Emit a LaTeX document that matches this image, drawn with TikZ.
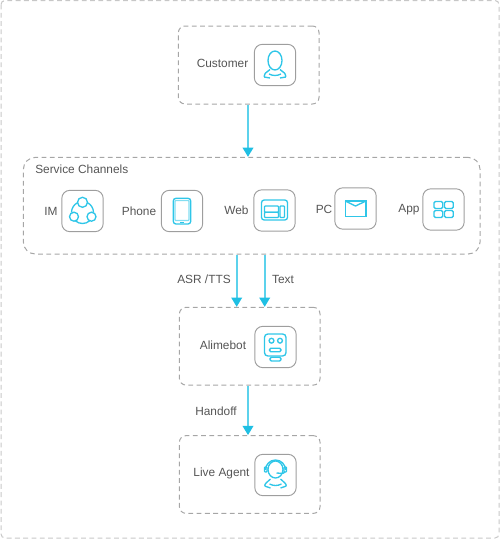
\documentclass[tikz,border=0pt]{standalone}
\usepackage{fontspec}
\setmainfont{Liberation Sans}
\usetikzlibrary{arrows.meta}
\definecolor{iconblue}{HTML}{2FC6E8}
\definecolor{flowblue}{HTML}{1FBFE3}
\definecolor{flowline}{HTML}{5CD2EC}
\definecolor{dashgray}{HTML}{A6A6A6}
\definecolor{txtgray}{HTML}{555555}
\tikzset{
	dashbox/.style={draw=dashgray, line width=0.75pt, dash pattern=on 3.6pt off 2.6pt, rounded corners=#1, inner sep=0pt},
	iconbox/.style={draw=black!38, line width=0.7pt, rounded corners=6pt, minimum size=31pt, inner sep=0pt},
	lbl/.style={font=\fontsize{8.9pt}{10pt}\selectfont, text=txtgray, inner sep=0pt},
	flow/.style={draw=flowline, line width=1.4pt, -{Triangle[length=7pt,width=8pt,color=flowblue]}},
	ico/.style={draw=iconblue, line width=1pt, rounded corners=0.6pt}
}
\begin{document}
\begin{tikzpicture}[x=0.75pt, y=-0.75pt]
	\useasboundingbox (0,0) rectangle (500,539);
	% Rahmen
	\draw[draw=black!22, line width=0.75pt, dash pattern=on 3.6pt off 2.6pt, rounded corners=3pt] (1,0.5) rectangle (499,538);
	% Bloecke
	\node[dashbox=5pt, minimum width=105.5pt, minimum height=58.5pt] (customer) at (248.7,65) {};
	\node[dashbox=9pt, minimum width=342.5pt, minimum height=72.5pt] (channels) at (251.7,205.7) {};
	\node[dashbox=5pt, minimum width=105.5pt, minimum height=58.3pt] (alimebot) at (249.7,346.2) {};
	\node[dashbox=5pt, minimum width=105.5pt, minimum height=58.3pt] (agent) at (249.7,474.5) {};
	% Icons
	\node[iconbox] (icust) at (275,65) {};
	\node[iconbox] (iim) at (82.5,211) {};
	\node[iconbox] (iphone) at (182,211) {};
	\node[iconbox] (iweb) at (274.5,210.5) {};
	\node[iconbox] (ipc) at (355.5,208.5) {};
	\node[iconbox] (iapp) at (443.5,209.5) {};
	\node[iconbox] (ibot) at (275.5,347) {};
	\node[iconbox] (ilive) at (275.5,475) {};
	% Texte
	\node[lbl] (tcust) at (222.5,63.5) {Customer};
	\node[lbl, anchor=west] (tchan) at (35,169.5) {Service Channels};
	\node[lbl] (tim) at (51,211.5) {IM};
	\node[lbl] (tphone) at (139,211.5) {Phone};
	\node[lbl] (tweb) at (236.5,210.5) {Web};
	\node[lbl] (tpc) at (324,209) {PC};
	\node[lbl] (tapp) at (409,210) {App};
	\node[lbl] (tbot) at (223,345) {Alimebot};
	\node[lbl] (tlive) at (221.5,473) {Live Agent};
	\node[lbl] (tasr) at (204,279) {ASR /TTS};
	\node[lbl] (ttext) at (283,279) {Text};
	\node[lbl] (thand) at (216,411) {Handoff};
	% Pfeile
	\coordinate (midx) at (248,0);
	\coordinate (asrx) at (236.7,0);
	\coordinate (txtx) at (264.7,0);
	\draw[flow] (midx |- customer.south) -- (midx |- channels.north);
	\draw[flow] (asrx |- channels.south) -- (asrx |- alimebot.north);
	\draw[flow] (txtx |- channels.south) -- (txtx |- alimebot.north);
	\draw[flow] (midx |- alimebot.south) -- (midx |- agent.north);
	% Customer
	\begin{scope}[shift={(icust.center)}]
		\draw[ico] (0,-4.5) ellipse (7 and 9.5);
		\draw[ico] (-5,4.5) -- (-10,8.5) -- (-11,12) -- (-5,13);
		\draw[ico] (5,4.5) -- (10,8.5) -- (11,12) -- (5,13);
		\draw[ico] (-6,9) .. controls (-2,11) and (2,11) .. (6,9);
	\end{scope}
	% IM
	\begin{scope}[shift={(iim.center)}]
		\draw[ico] (0,-8.7) circle (5);
		\draw[ico] (-8.5,5.7) circle (4.5);
		\draw[ico] (9,5.7) circle (4.5);
		\draw[ico] (0,1.5) ++(-115:11) arc[start angle=-115, end angle=-180, radius=11];
		\draw[ico] (0,1.5) ++(-65:11) arc[start angle=-65, end angle=0, radius=11];
		\draw[ico] (0,1.5) ++(130:11) arc[start angle=130, end angle=50, radius=11];
	\end{scope}
	% Phone
	\begin{scope}[shift={(iphone.center)}]
		\draw[ico, rounded corners=2pt] (-8.7,-12.7) rectangle (8.7,13);
		\draw[ico, draw=iconblue!60] (-7,-10.5) rectangle (7,9.5);
		\draw[ico] (-2,11.3) -- (2,11.3);
	\end{scope}
	% Web
	\begin{scope}[shift={(iweb.center)}]
		\draw[ico, rounded corners=2pt] (-13,-10.5) rectangle (13,9.5);
		\draw[ico] (-10,-4.5) rectangle (4,1.8);
		\draw[ico] (-10,1.8) rectangle (4,7);
		\draw[ico] (5.5,-4.5) rectangle (10,7);
	\end{scope}
	% PC
	\begin{scope}[shift={(ipc.center)}]
		\draw[ico, rounded corners=0pt] (-10.3,-7.5) rectangle (10.5,8);
		\draw[ico, rounded corners=0pt] (-10.3,-7.5) -- (0,-2.5) -- (10.5,-7.5);
	\end{scope}
	% App
	\begin{scope}[shift={(iapp.center)}]
		\foreach \ix/\iy in {-9.5/-8, 1/-8, -9.5/1, 1/1} {
			\draw[ico, rounded corners=1pt] (\ix,\iy) rectangle ++(8.7,7);
		}
	\end{scope}
	% Alimebot
	\begin{scope}[shift={(ibot.center)}]
		\draw[ico, rounded corners=2.5pt] (-11,-13) rectangle (10.5,9);
		\draw[ico] (-4,-6.3) circle (2.4);
		\draw[ico] (4.5,-6.3) circle (2.4);
		\draw[ico, rounded corners=1pt] (-6,1.3) rectangle (5.5,4.7);
		\draw[ico, rounded corners=1pt] (-5.5,10.3) rectangle (5.5,14);
	\end{scope}
	% Live Agent
	\begin{scope}[shift={(ilive.center)}]
		\draw[ico] (0,-5.5) ellipse (7.5 and 8.5);
		\draw[ico] (-10,-5) arc[start angle=180, end angle=360, radius=10];
		\draw[ico] (-11,-8) rectangle (-8.5,-3);
		\draw[ico] (8.5,-8) rectangle (11,-3);
		\draw[ico] (9.5,-3) .. controls (8.5,-1.5) .. (1,-2);
		\draw[ico] (-5,4) -- (-10,8.5) -- (-11,11) -- (-5,13);
		\draw[ico] (5,4) -- (10,8.5) -- (11,11) -- (5,13);
		\draw[ico] (-6,9) .. controls (-2,11) and (2,11) .. (6,9);
	\end{scope}
\end{tikzpicture}
\end{document}
